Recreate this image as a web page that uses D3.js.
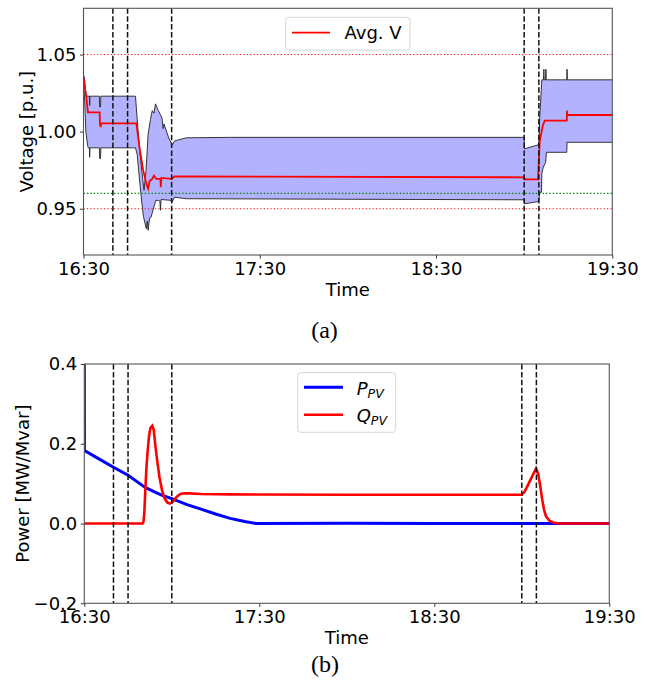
<!DOCTYPE html>
<html><head><meta charset="utf-8">
<script src="https://cdn.jsdelivr.net/npm/d3@7"></script>
<style>
body{margin:0;background:#fff}
svg{display:block}
text{font-family:"DejaVu Sans",sans-serif}
text.serif{font-family:"Liberation Serif","Times New Roman",serif}
</style>
</head><body>
<svg id="c" width="651" height="680"></svg>
<script>
// ---------------- data ----------------
const xTickLabels = ["16:30", "17:30", "18:30", "19:30"];
const eventMinutes = [10, 15, 30, 150, 155];          // minutes after 16:30
const vTicks = [0.95, 1.00, 1.05];
const vLimitLines = [0.95, 1.05];                       // red dotted
const vRefLines = [0.96];                               // green dotted
const pTicks = [-0.2, 0.0, 0.2, 0.4];

// [minutes after 16:30, voltage p.u.]
const vMax = [
  [0,1.037],[0.3,1.035],[0.8,1.025],[1.2,1.023],[2.0,1.023],[2.1,1.017],[2.2,1.023],
  [5.4,1.023],[5.5,1.016],[5.8,1.016],[5.9,1.023],[17.7,1.023],[18.2,1.01],[19.0,0.99],
  [20.0,0.972],[20.6,0.962],[21.3,0.975],[22.0,0.9985],[22.8,1.008],[23.4,1.0136],
  [24.0,1.012],[24.5,1.018],[25.5,1.0136],[26.7,1.009],[27.1,1.002],[27.4,1.005],
  [29.0,0.996],[30.0,0.992],[30.3,0.9915],[31.0,0.994],[35,0.996],[50,0.9963],
  [150,0.9963],[150.1,0.9888],[155,0.9916],[155.3,1.0093],[156.0,1.0336],[156.6,1.0336],
  [156.7,1.0405],[156.8,1.0336],[157.3,1.0336],[157.4,1.0405],[157.5,1.0336],
  [164.5,1.0336],[164.6,1.0405],[164.7,1.0336],[180,1.0336]
];
const vMin = [
  [0,1.03],[0.4,1.02],[0.8,1.0],[1.4,0.991],[1.6,0.9895],[2.0,0.9895],[2.1,0.9834],[2.2,0.9895],
  [5.4,0.9895],[5.5,0.9825],[5.8,0.9825],[5.9,0.9895],[17.7,0.9895],[18.3,0.985],[19.0,0.97],
  [19.8,0.955],[20.4,0.945],[21.0,0.94],[21.4,0.937],[21.7,0.942],[22.0,0.936],[22.5,0.944],
  [23.0,0.9446],[23.8,0.95],[24.6,0.9554],[25.5,0.9554],[26.0,0.955],[26.2,0.949],[26.4,0.956],
  [30.0,0.9554],[30.2,0.9545],[31.0,0.9575],[35,0.9565],[150,0.9558],[150.1,0.9532],
  [155.0,0.9547],[155.3,0.9607],[155.9,0.9607],[156.0,0.9726],[156.5,0.977],[157.3,0.980],
  [157.6,0.9866],[164.5,0.9866],[164.6,0.9931],[180,0.9931]
];
const vAvg = [
  [0,1.035],[0.5,1.028],[1.0,1.022],[1.5,1.0125],[5.5,1.0125],[5.6,1.005],[5.8,1.003],[6.0,1.0054],
  [18.0,1.0054],[18.5,0.998],[19.2,0.988],[20.3,0.975],[21.4,0.966],[22.0,0.963],[22.5,0.968],
  [23.4,0.9694],[24.0,0.9715],[24.8,0.9694],[26.2,0.9694],[26.3,0.964],[26.5,0.970],
  [30.0,0.9694],[31.0,0.9709],[150,0.9704],[150.1,0.969],[154.7,0.969],[155.0,0.981],
  [155.3,0.9942],[155.9,0.9995],[156.3,1.0039],[157.0,1.0071],[164.5,1.0071],[164.6,1.0136],
  [164.7,1.0108],[180,1.0108]
];

// [minutes after 16:30, MW / Mvar]
const pPV = [
  [0,0.4],[0.05,0.183],[5,0.162],[10,0.141],[15,0.121],[20,0.095],[21,0.09],[25,0.076],
  [27.3,0.069],[30,0.0625],[35,0.048],[40,0.036],[45,0.024],[50,0.013],[55,0.005],[59,0.0],
  [90,0.001],[120,0.0],[180,0.0]
];
const qPV = [
  [0,0],[20.0,0],[20.3,0.005],[20.6,0.03],[20.9,0.08],[21.3,0.14],[21.7,0.18],[22.2,0.22],
  [22.7,0.24],[23.3,0.245],[23.8,0.235],[24.3,0.2],[25.0,0.157],[25.8,0.115],[26.7,0.082],
  [27.6,0.062],[28.5,0.0525],[29.4,0.05],[30.4,0.055],[31.2,0.063],[32,0.069],[33,0.074],
  [34.2,0.076],[36,0.0755],[40,0.074],[50,0.073],[90,0.072],[150,0.072],[151,0.08],
  [152,0.095],[153,0.11],[154,0.125],[154.9,0.1375],[155.6,0.125],[156.3,0.095],[157,0.06],
  [157.6,0.035],[158.3,0.018],[159.5,0.007],[161,0.002],[163,0],[180,0]
];

// ---------------- drawing ----------------
const svg = d3.select("#c");
const parseHM = d3.timeParse("%H:%M");
const t0 = parseHM(xTickLabels[0]);
const tEnd = parseHM(xTickLabels[xTickLabels.length - 1]);
const toDate = m => new Date(t0.getTime() + m * 60000);
const FS = 18;

function panel(box, yDomain, yTicks, yFmt, yLabel) {
  const x = d3.scaleTime().domain([t0, tEnd]).range([box.x0, box.x1]);
  const y = d3.scaleLinear().domain(yDomain).range([box.y1, box.y0]);
  const g = svg.append("g");
  g.append("defs").append("clipPath").attr("id", box.id)
    .append("rect").attr("x", box.x0).attr("y", box.y0)
    .attr("width", box.x1 - box.x0).attr("height", box.y1 - box.y0);
  const plot = g.append("g").attr("clip-path", `url(#${box.id})`);

  const xAxis = d3.axisBottom(x).tickValues(xTickLabels.map(parseHM))
    .tickFormat(d3.timeFormat("%H:%M")).tickSize(3.5).tickPadding(3.5);
  const yAxis = d3.axisLeft(y).tickValues(yTicks).tickFormat(yFmt).tickSize(3.5).tickPadding(3.5);
  const ax = g.append("g").attr("transform", `translate(0,${box.y1})`).call(xAxis);
  const ay = g.append("g").attr("transform", `translate(${box.x0},0)`).call(yAxis);
  [ax, ay].forEach(a => {
    a.select(".domain").remove();
    a.selectAll("line").attr("stroke", "#333").attr("stroke-width", 1);
    a.selectAll("text").attr("font-size", FS).attr("fill", "#000")
      .attr("font-family", "DejaVu Sans");
  });
  g.append("text").attr("x", (box.x0 + box.x1) / 2).attr("y", box.timeY)
    .attr("text-anchor", "middle").attr("font-size", FS).text("Time");
  g.append("text").attr("transform", `translate(${box.labelX},${(box.y0 + box.y1) / 2}) rotate(-90)`)
    .attr("text-anchor", "middle").attr("font-size", FS).text(yLabel);
  return {x, y, plot, g, box};
}

function frame(P) {
  const b = P.box;
  P.g.append("rect").attr("x", b.x0).attr("y", b.y0).attr("width", b.x1 - b.x0)
    .attr("height", b.y1 - b.y0).attr("fill", "none").attr("stroke", "#555").attr("stroke-width", 1.1);
}

function dashes(P) {
  P.plot.selectAll(".ev").data(eventMinutes).join("line")
    .attr("x1", d => P.x(toDate(d))).attr("x2", d => P.x(toDate(d)))
    .attr("y1", P.box.y0).attr("y2", P.box.y1)
    .attr("stroke", "#111").attr("stroke-width", 1.5).attr("stroke-dasharray", "5.5,2.4");
}

// ---- top panel ----
const A = panel({id: "ca", x0: 83.5, x1: 612.3, y0: 8.3, y1: 255, timeY: 296, labelX: 33},
  [0.92, 1.08], vTicks, d3.format(".2f"), "Voltage [p.u.]");

const band = (() => {
  const times = Array.from(new Set(vMax.map(d => d[0]).concat(vMin.map(d => d[0])))).sort((a, b) => a - b);
  const interp = (arr, t) => {
    for (let i = 0; i < arr.length - 1; i++) {
      if (t >= arr[i][0] && t <= arr[i + 1][0]) {
        const f = (t - arr[i][0]) / (arr[i + 1][0] - arr[i][0] || 1);
        return arr[i][1] + f * (arr[i + 1][1] - arr[i][1]);
      }
    }
    return arr[arr.length - 1][1];
  };
  return times.map(t => ({t, hi: interp(vMax, t), lo: interp(vMin, t)}));
})();

A.plot.append("path").datum(band)
  .attr("d", d3.area().x(d => A.x(toDate(d.t))).y0(d => A.y(d.lo)).y1(d => A.y(d.hi)))
  .attr("fill", "#b2b2ff").attr("stroke", "none");
const lineA = d3.line().x(d => A.x(toDate(d[0]))).y(d => A.y(d[1]));
[vMax, vMin].forEach(s => A.plot.append("path").datum(s).attr("d", lineA)
  .attr("fill", "none").attr("stroke", "#222").attr("stroke-width", 0.9));
A.plot.append("path").datum(vAvg).attr("d", lineA)
  .attr("fill", "none").attr("stroke", "#ff0000").attr("stroke-width", 1.8);

A.plot.selectAll(".lim").data(vLimitLines).join("line")
  .attr("x1", A.box.x0).attr("x2", A.box.x1).attr("y1", d => A.y(d)).attr("y2", d => A.y(d))
  .attr("stroke", "#ff0000").attr("stroke-width", 1).attr("stroke-dasharray", "1.2,2.2");
A.plot.selectAll(".ref").data(vRefLines).join("line")
  .attr("x1", A.box.x0).attr("x2", A.box.x1).attr("y1", d => A.y(d)).attr("y2", d => A.y(d))
  .attr("stroke", "#008000").attr("stroke-width", 1.1).attr("stroke-dasharray", "1.4,2.0");
dashes(A);
frame(A);

const lgA = svg.append("g");
lgA.append("rect").attr("x", 285.7).attr("y", 17.3).attr("width", 124.3).attr("height", 32.7)
  .attr("rx", 3).attr("fill", "#fff").attr("fill-opacity", 0.8).attr("stroke", "#d6d6d6");
lgA.append("line").attr("x1", 292).attr("x2", 330).attr("y1", 32.7).attr("y2", 32.7)
  .attr("stroke", "#ff0000").attr("stroke-width", 1.8);
lgA.append("text").attr("x", 344.5).attr("y", 39.3).attr("font-size", FS).text("Avg. V");

svg.append("text").attr("class", "serif").attr("x", 324.5).attr("y", 338).attr("text-anchor", "middle")
  .attr("font-size", 24).text("(a)");

// ---- bottom panel ----
const B = panel({id: "cb", x0: 84.3, x1: 609.3, y0: 364, y1: 603.3, timeY: 644, labelX: 28.5},
  [-0.2, 0.4], pTicks, d3.format(".1f"), "Power [MW/Mvar]");
const lineB = d3.line().x(d => B.x(toDate(d[0]))).y(d => B.y(d[1]));
B.plot.append("path").datum(pPV).attr("d", lineB)
  .attr("fill", "none").attr("stroke", "#0000ff").attr("stroke-width", 3);
B.plot.append("path").datum(qPV).attr("d", lineB)
  .attr("fill", "none").attr("stroke", "#ff0000").attr("stroke-width", 2.6);
dashes(B);
frame(B);

const lgB = svg.append("g");
lgB.append("rect").attr("x", 297.7).attr("y", 372.7).attr("width", 98).attr("height", 59.6)
  .attr("rx", 3).attr("fill", "#fff").attr("fill-opacity", 0.8).attr("stroke", "#d6d6d6");
[["#0000ff", 387.3, "P", 395], ["#ff0000", 414.7, "Q", 422.3]].forEach(([c, ly, s, ty]) => {
  lgB.append("line").attr("x1", 304).attr("x2", 343).attr("y1", ly).attr("y2", ly)
    .attr("stroke", c).attr("stroke-width", c === "#0000ff" ? 3 : 2.6);
  const t = lgB.append("text").attr("x", 356.7).attr("y", ty).attr("font-size", FS)
    .attr("font-style", "italic");
  t.append("tspan").text(s);
  t.append("tspan").attr("font-size", 12.6).attr("dy", 3).text("PV");
});

svg.append("text").attr("class", "serif").attr("x", 325).attr("y", 671.5).attr("text-anchor", "middle")
  .attr("font-size", 24).text("(b)");
</script>
</body></html>
